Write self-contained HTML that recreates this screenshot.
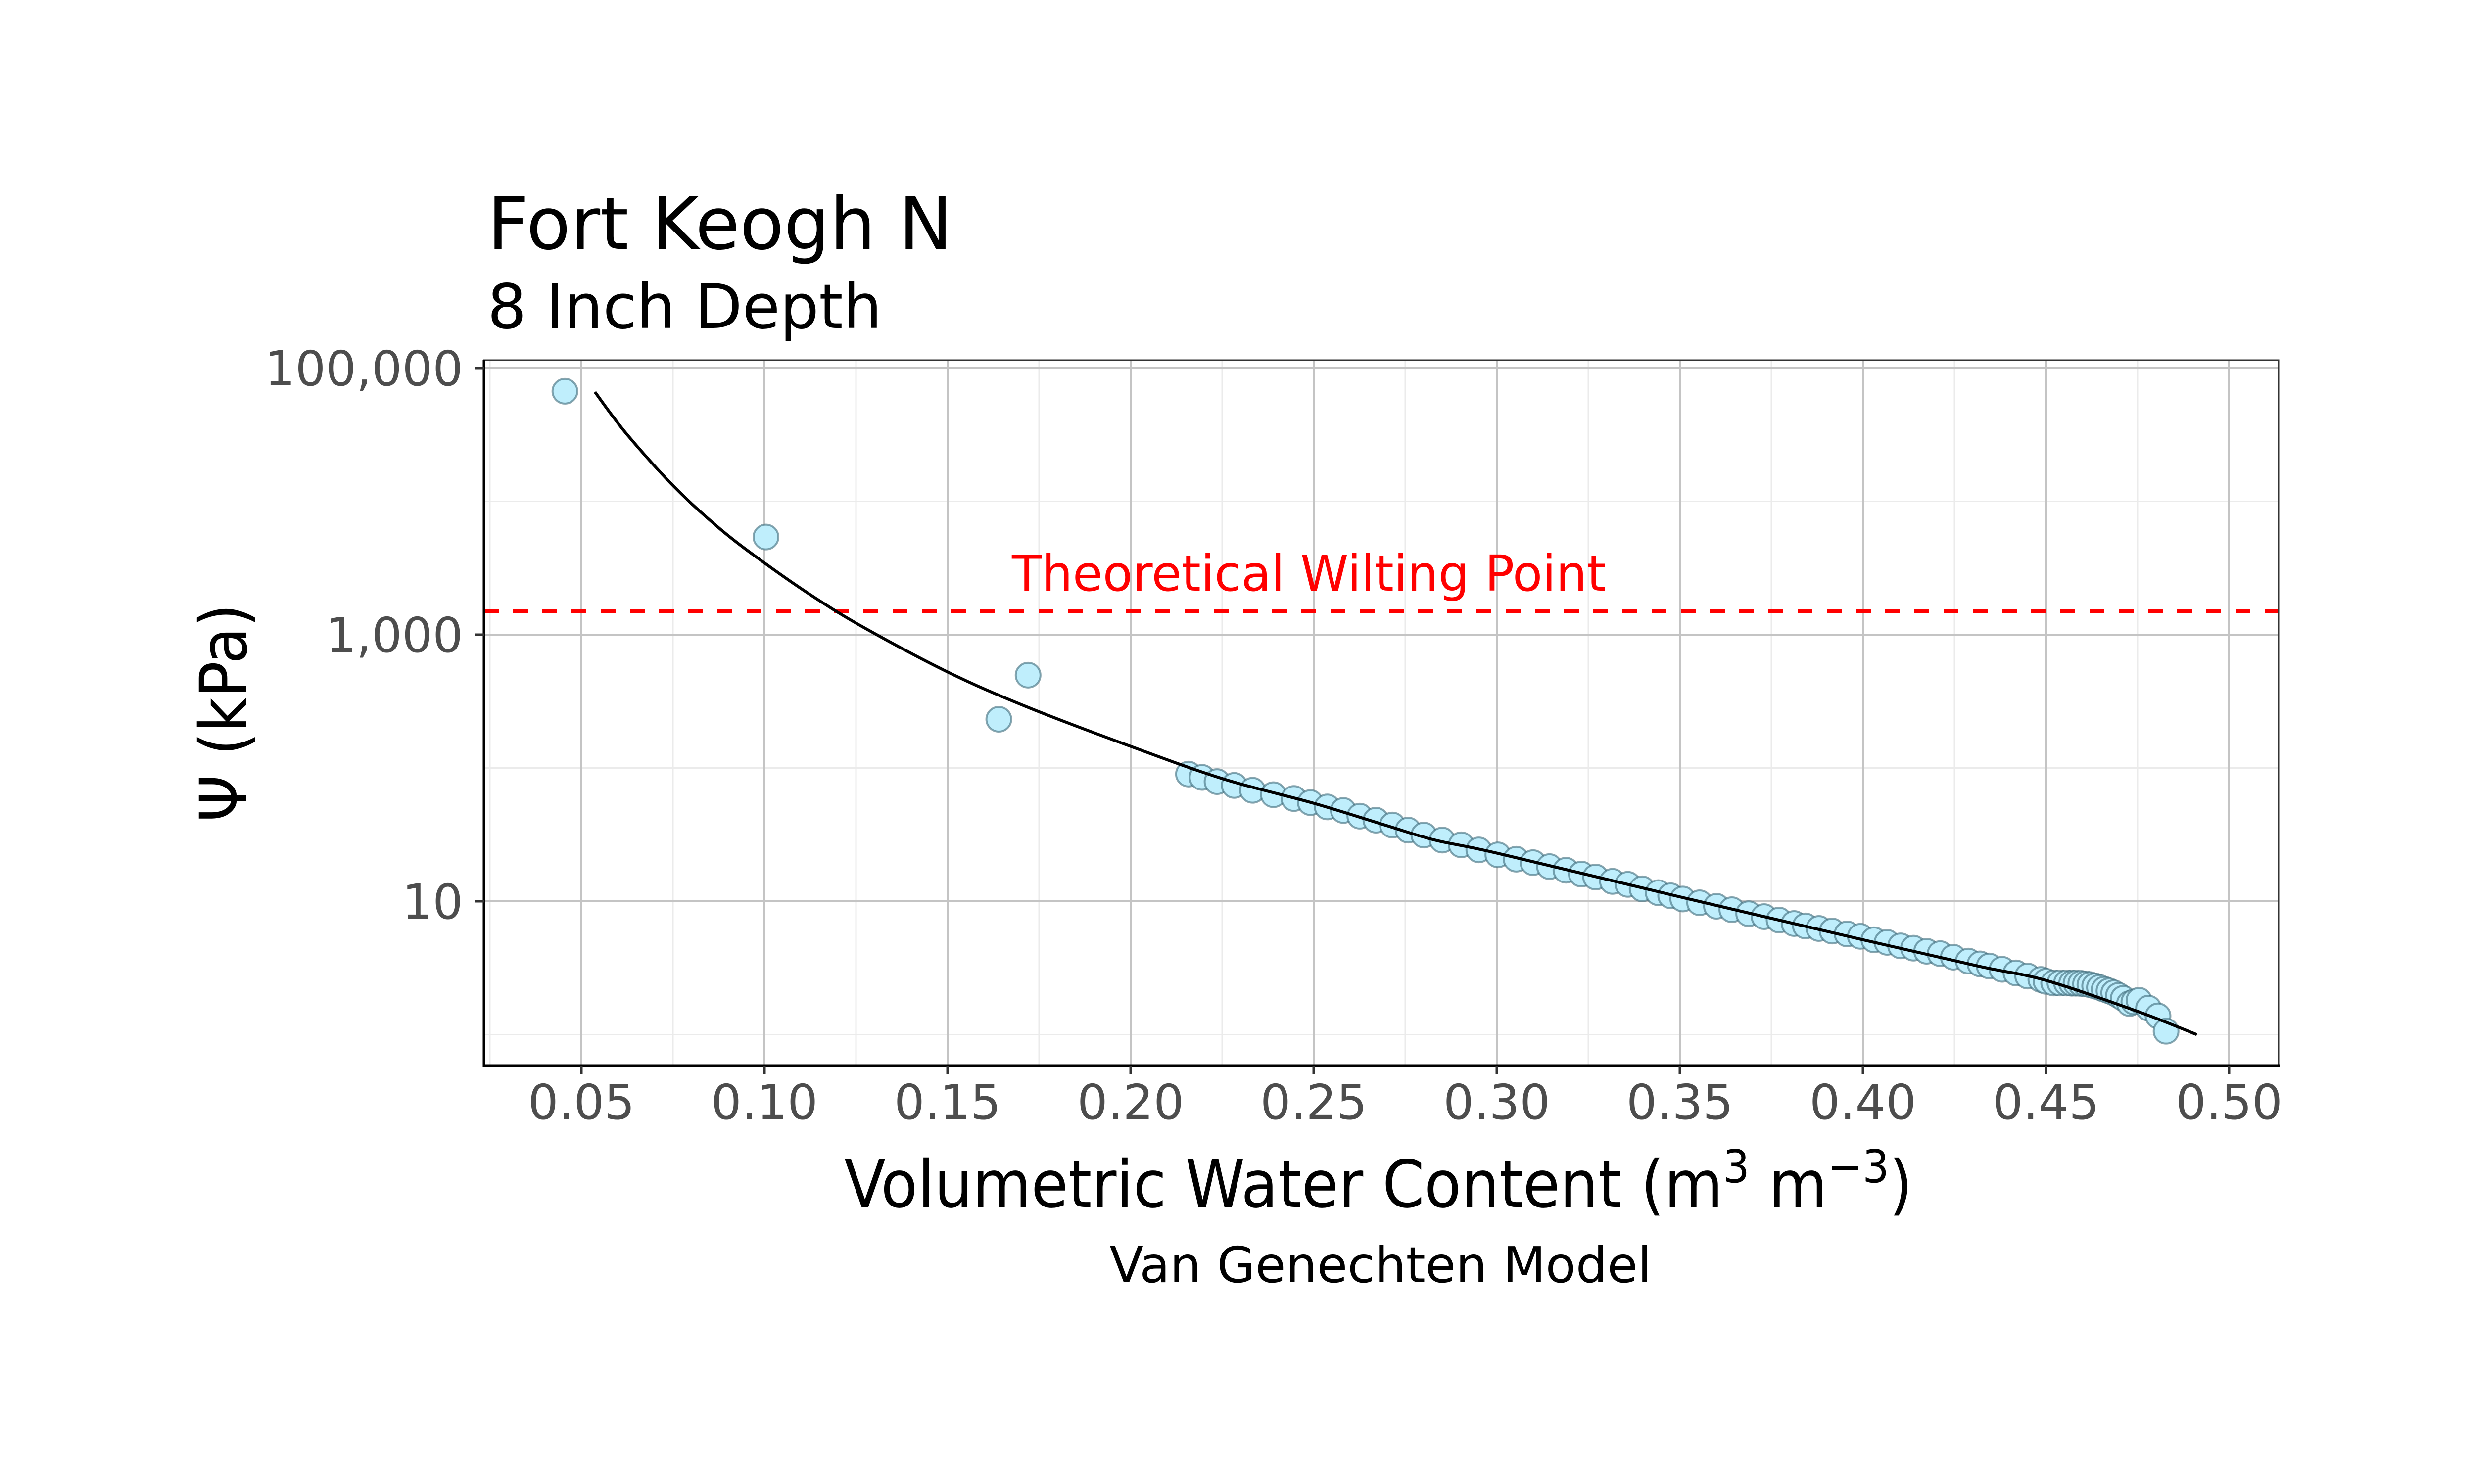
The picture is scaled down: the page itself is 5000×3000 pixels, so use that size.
<!DOCTYPE html>
<html><head><meta charset="utf-8">
<style>
html,body{margin:0;padding:0;background:#fff;}
svg{display:block;font-family:"DejaVu Sans","Liberation Sans",sans-serif;}
</style></head>
<body>
<svg id="chart" width="5000" height="3000" viewBox="0 0 5000 3000" xmlns="http://www.w3.org/2000/svg">
<rect x="0" y="0" width="5000" height="3000" fill="#fff"/>
<text x="985" y="503" font-size="146" fill="#000">Fort Keogh N</text>
<text x="985" y="663" font-size="124" fill="#000">8 Inch Depth</text>
<g id="grid"></g>
<g id="marks"></g>
<g id="axes"></g>
<text x="2786" y="2440" font-size="132" text-anchor="middle" fill="#000" textLength="2159" lengthAdjust="spacingAndGlyphs">Volumetric Water Content (m<tspan font-size="92" dy="-50">3</tspan><tspan dy="50"> m</tspan><tspan font-size="92" dy="-50">−3</tspan><tspan dy="50">)</tspan></text>
<text x="2790" y="2592" font-size="100" text-anchor="middle" fill="#000" textLength="1095" lengthAdjust="spacingAndGlyphs">Van Genechten Model</text>
<text transform="translate(498,1441) rotate(-90)" font-size="132" text-anchor="middle" fill="#000" textLength="441" lengthAdjust="spacingAndGlyphs">Ψ (kPa)</text>
</svg>
<script>
// ---- data ----
const xTicks = [0.05,0.10,0.15,0.20,0.25,0.30,0.35,0.40,0.45,0.50];
const xTickLabels = ["0.05","0.10","0.15","0.20","0.25","0.30","0.35","0.40","0.45","0.50"];
const xMinor = [0.025,0.075,0.125,0.175,0.225,0.275,0.325,0.375,0.425,0.475];
const yTicks = [100000,1000,10];
const yTickLabels = ["100,000","1,000","10"];
const yMinor = [10000,100,1];
const wiltingPoint = 1500;
const obsTheta = [0.0455,0.1004,0.1640,0.1720,
0.2158,0.2195,0.2236,0.2283,0.2333,0.2390,0.2446,0.2491,0.2537,0.2581,0.2626,0.2670,0.2715,0.2758,0.2801,
0.2851,0.2903,0.2951,0.3003,0.3053,0.3099,0.3144,0.3189,0.3231,0.3270,0.3316,0.3358,0.3397,0.3441,0.3475,
0.3508,0.3554,0.3600,0.3642,0.3688,0.3730,0.3771,0.3812,0.3843,0.3880,0.3916,0.3957,0.3993,0.4030,0.4066,
0.4103,0.4138,0.4174,0.4211,0.4247,0.4288,0.4320,0.4345,0.4380,0.4418,0.4450,0.4486,0.4500,0.4521,0.4538,
0.4556,0.4570,0.4582,0.4595,0.4608,0.4620,0.4633,0.4646,0.4659,0.4672,0.4685,0.4698,0.4711,0.4728,0.4740,
0.4754,0.4780,0.4806,0.4828];
const obsPsi = [67000,5400,232,497,
90,85,79,74,68,63,59,55,51,48,43.5,40.6,37.3,34.2,31.4,
28.8,26.5,24.3,22.3,20.7,19.5,18.2,17.1,16.0,15.2,14.1,13.4,12.4,11.6,11.0,
10.4,9.75,9.18,8.65,8.07,7.67,7.23,6.81,6.53,6.25,5.98,5.69,5.46,5.14,4.92,
4.63,4.45,4.22,4.05,3.81,3.56,3.39,3.27,3.09,2.90,2.75,2.59,2.51,2.44,2.44,
2.44,2.43,2.43,2.42,2.40,2.37,2.32,2.26,2.19,2.13,2.06,1.97,1.87,1.71,1.76,
1.81,1.58,1.38,1.06];
const fitTheta = [0.0537,0.0622,0.0753,0.0880,0.1004,0.1139,0.1277,0.1504,0.172,0.2004,0.2254,0.2501,0.2696,0.2831,0.3003,0.35,0.4001,0.4318,0.45,0.4751,0.4912];
const fitPsi = [66100,32400,12900,6170,3390,1884,1109,519,285,144,82.6,54.3,37.2,28.8,22.9,10.8,5.14,3.25,2.55,1.49,1.0];

// ---- scales ----
const PL=978, PR=4605, PT=728, PB=2154;
function X(v){ return 805 + 7400*v; }
function Y(p){ return 744 + (5 - Math.log10(p))*269.5; }
const NS="http://www.w3.org/2000/svg";
function mk(tag, attrs, parent){ const e=document.createElementNS(NS,tag); for(const k in attrs) e.setAttribute(k,attrs[k]); parent.appendChild(e); return e; }

const grid=document.getElementById('grid'), marks=document.getElementById('marks'), axes=document.getElementById('axes');
mk('rect',{x:PL,y:PT,width:PR-PL,height:PB-PT,fill:'#fff'},grid);
xMinor.forEach(v=>{ const x=X(v); if(x<PL||x>PR) return;
  const l=mk('line',{x1:x,x2:x,y1:PT,y2:PB,stroke:'#ebebeb','stroke-width':3},grid);
  
   });
yMinor.forEach(p=>{ const y=Y(p);
  const l=mk('line',{x1:PL,x2:PR,y1:y,y2:y,stroke:'#ebebeb','stroke-width':3},grid);
  
   });
xTicks.forEach(v=>{ const x=X(v);
  const l=mk('line',{x1:x,x2:x,y1:PT,y2:PB,stroke:'#c4c4c4','stroke-width':4},grid);
  
   });
yTicks.forEach(p=>{ const y=Y(p);
  const l=mk('line',{x1:PL,x2:PR,y1:y,y2:y,stroke:'#c4c4c4','stroke-width':4},grid);
  
   });

// wilting line
const wy=Y(wiltingPoint);
const wl=mk('line',{x1:PL,x2:PR,y1:wy,y2:wy,stroke:'#ff0000','stroke-width':7,'stroke-dasharray':'30 29'},marks);


const wt=mk('text',{x:2045,y:1194,'font-size':100,fill:'#ff0000',textLength:1201,lengthAdjust:'spacingAndGlyphs'},marks);
wt.textContent='Theoretical Wilting Point';



// points
obsTheta.forEach((v,i)=>{
  const c=mk('circle',{cx:X(v),cy:Y(obsPsi[i]),r:25,fill:'#bfeefc',stroke:'rgba(60,105,120,0.6)','stroke-width':4},marks);
  
  
});

// fitted curve (Catmull-Rom)
const pts=fitTheta.map((v,i)=>[X(v),Y(fitPsi[i])]);
let d='M'+pts[0][0]+','+pts[0][1];
for(let i=0;i<pts.length-1;i++){
  const p0=pts[Math.max(0,i-1)],p1=pts[i],p2=pts[i+1],p3=pts[Math.min(pts.length-1,i+2)];
  const c1=[p1[0]+(p2[0]-p0[0])/6,p1[1]+(p2[1]-p0[1])/6];
  const c2=[p2[0]-(p3[0]-p1[0])/6,p2[1]-(p3[1]-p1[1])/6];
  d+=' C'+c1[0]+','+c1[1]+' '+c2[0]+','+c2[1]+' '+p2[0]+','+p2[1];
}
const fc=mk('path',{d:d,fill:'none',stroke:'#000','stroke-width':6},marks);



// panel border & axes
mk('rect',{x:PL,y:PT,width:PR-PL,height:PB-PT,fill:'none',stroke:'#333','stroke-width':3},axes);
mk('line',{x1:PL,x2:PL,y1:PT,y2:PB+2,stroke:'#000','stroke-width':5},axes);
mk('line',{x1:PL-2,x2:PR+2,y1:PB,y2:PB,stroke:'#000','stroke-width':5},axes);
xTicks.forEach((v,i)=>{ const x=X(v);
  mk('line',{x1:x,x2:x,y1:PB,y2:PB+18,stroke:'#333','stroke-width':5},axes);
  const t=mk('text',{x:x,y:2262,'font-size':97,'text-anchor':'middle',fill:'#4d4d4d'},axes);
  t.textContent=xTickLabels[i];
  
   });
yTicks.forEach((p,i)=>{ const y=Y(p);
  mk('line',{x1:PL-18,x2:PL,y1:y,y2:y,stroke:'#333','stroke-width':5},axes);
  const t=mk('text',{x:936,y:y+35,'font-size':97,'text-anchor':'end',fill:'#4d4d4d'},axes);
  t.textContent=yTickLabels[i];
  
   });
</script>
</body></html>
